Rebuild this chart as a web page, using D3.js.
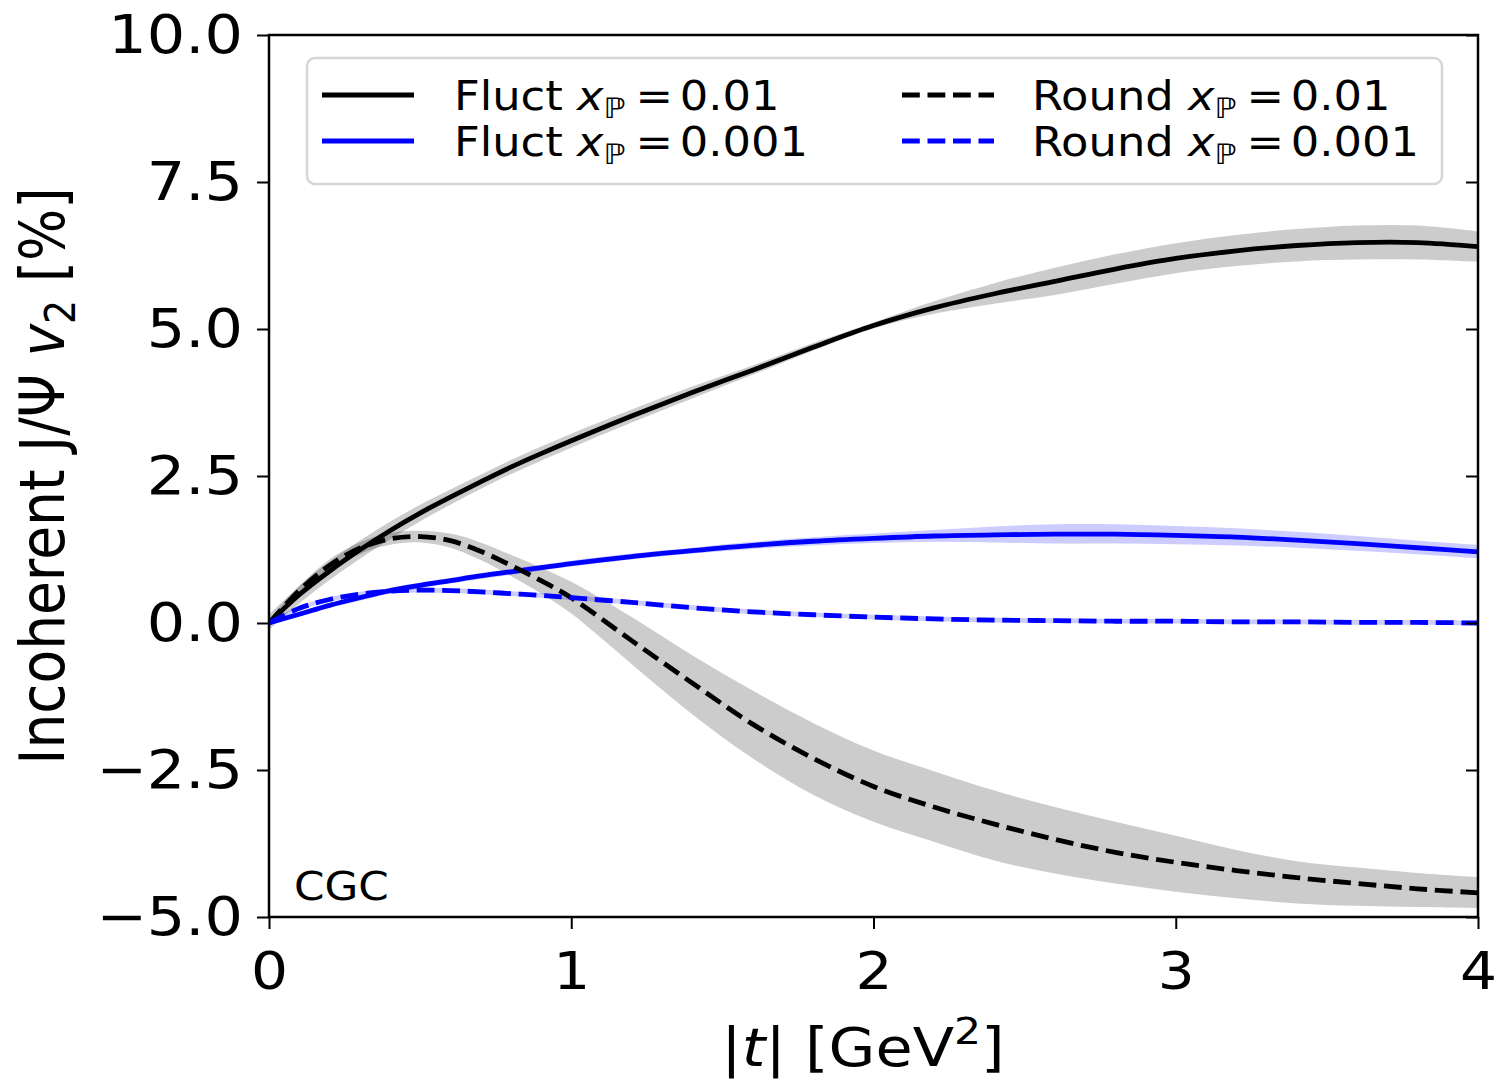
<!DOCTYPE html>
<html>
<head>
<meta charset="utf-8">
<script src="https://cdn.jsdelivr.net/npm/d3@7"></script>
<style>
  html, body { margin: 0; padding: 0; background: #fff; }
  svg { display: block; font-family: "DejaVu Sans", sans-serif; }
</style>
</head>
<body>
<svg id="chart" width="1496" height="1081"></svg>
<script>
// |t| grid (GeV^2) shared by all curves
const tGrid = [0,0.1,0.2,0.3,0.4,0.5,0.6,0.7,0.8,0.9,1.0,1.2,1.4,1.6,1.8,2.0,2.2,2.4,2.6,2.8,3.0,3.2,3.4,3.6,3.8,4.0];

// Fluctuating proton, x_P = 0.01 (mean and uncertainty band)
const fluct01    = [0,0.48,0.88,1.24,1.57,1.87,2.14,2.40,2.65,2.88,3.10,3.52,3.92,4.30,4.69,5.06,5.36,5.60,5.81,6.02,6.20,6.33,6.42,6.47,6.47,6.40];
const fluct01Hi  = [0.14,0.63,1.04,1.40,1.72,2.01,2.27,2.52,2.77,3.00,3.22,3.63,4.02,4.38,4.76,5.11,5.47,5.78,6.04,6.27,6.46,6.60,6.70,6.76,6.76,6.66];
const fluct01Lo  = [-0.12,0.33,0.73,1.09,1.42,1.73,2.01,2.28,2.53,2.76,2.98,3.41,3.82,4.22,4.63,5.01,5.26,5.43,5.58,5.77,5.95,6.07,6.15,6.18,6.18,6.14];

// Fluctuating proton, x_P = 0.001
const fluct001   = [0,0.15,0.30,0.43,0.55,0.64,0.72,0.80,0.87,0.94,1.01,1.13,1.23,1.32,1.39,1.44,1.48,1.50,1.51,1.51,1.49,1.46,1.41,1.35,1.28,1.21];
const fluct001Hi = [0.03,0.19,0.34,0.48,0.60,0.69,0.77,0.85,0.92,0.99,1.06,1.18,1.28,1.38,1.46,1.52,1.58,1.64,1.68,1.68,1.65,1.61,1.55,1.48,1.40,1.33];
const fluct001Lo = [-0.03,0.11,0.26,0.38,0.50,0.59,0.67,0.75,0.82,0.89,0.96,1.08,1.18,1.26,1.32,1.36,1.38,1.37,1.35,1.35,1.34,1.32,1.28,1.23,1.17,1.10];

// Round proton, x_P = 0.01
const round01    = [0,0.55,0.98,1.27,1.43,1.47,1.40,1.22,0.98,0.72,0.43,-0.30,-1.02,-1.72,-2.30,-2.78,-3.13,-3.42,-3.68,-3.90,-4.07,-4.21,-4.33,-4.43,-4.52,-4.59];
const round01Hi  = [0.06,0.63,1.08,1.37,1.53,1.57,1.52,1.37,1.16,0.94,0.70,0.10,-0.55,-1.15,-1.70,-2.17,-2.52,-2.85,-3.13,-3.38,-3.62,-3.86,-4.05,-4.16,-4.25,-4.32];
const round01Lo  = [-0.06,0.47,0.88,1.17,1.33,1.37,1.28,1.07,0.80,0.50,0.16,-0.70,-1.55,-2.30,-2.92,-3.38,-3.72,-4.04,-4.26,-4.43,-4.57,-4.68,-4.77,-4.81,-4.83,-4.85];

// Round proton, x_P = 0.001
const round001   = [0,0.25,0.40,0.49,0.54,0.56,0.55,0.53,0.50,0.47,0.43,0.35,0.26,0.19,0.14,0.10,0.07,0.05,0.04,0.03,0.03,0.02,0.02,0.01,0.01,0.00];
const round001Hi = [0.04,0.29,0.44,0.53,0.58,0.60,0.59,0.57,0.54,0.51,0.47,0.39,0.30,0.23,0.18,0.14,0.11,0.09,0.08,0.07,0.07,0.06,0.06,0.05,0.05,0.04];
const round001Lo = [-0.04,0.21,0.36,0.45,0.50,0.52,0.51,0.49,0.46,0.43,0.39,0.31,0.22,0.15,0.10,0.06,0.03,0.01,0.00,-0.01,-0.01,-0.02,-0.02,-0.03,-0.03,-0.04];

// Axis ticks
const xTicks = [0, 1, 2, 3, 4];
const yTicks = [-5.0, -2.5, 0.0, 2.5, 5.0, 7.5, 10.0];

// Legend entries
const legendLabels = ["Fluct", "Fluct", "Round", "Round"];
const legendX = ["0.01", "0.001", "0.01", "0.001"];

const svg = d3.select("#chart");
const W = 1496, H = 1081;
const m = { left: 269, top: 35, right: 18, bottom: 164 };
const pw = W - m.left - m.right, ph = H - m.top - m.bottom;
const SX = 1.12;   // horizontal glyph stretch used for all text

const x = d3.scaleLinear().domain([0, 4]).range([m.left, m.left + pw]);
const y = d3.scaleLinear().domain([-5, 10]).range([m.top + ph, m.top]);

svg.append("defs").append("clipPath").attr("id", "plotclip")
  .append("rect").attr("x", m.left).attr("y", m.top).attr("width", pw).attr("height", ph);
const plot = svg.append("g").attr("clip-path", "url(#plotclip)");

const curve = d3.curveCatmullRom.alpha(0.5);
const area = (lo, hi) => d3.area()
  .x((d, i) => x(tGrid[i])).y0((d, i) => y(lo[i])).y1((d, i) => y(hi[i])).curve(curve)(tGrid);
const line = vals => d3.line()
  .x((d, i) => x(tGrid[i])).y((d, i) => y(vals[i])).curve(curve)(tGrid);

const LW = 4.8, DASH = "17.8,7.7";
const series = [
  { mean: fluct01,  lo: fluct01Lo,  hi: fluct01Hi,  color: "#000000", dash: null },
  { mean: fluct001, lo: fluct001Lo, hi: fluct001Hi, color: "#0000ff", dash: null },
  { mean: round01,  lo: round01Lo,  hi: round01Hi,  color: "#000000", dash: DASH },
  { mean: round001, lo: round001Lo, hi: round001Hi, color: "#0000ff", dash: DASH }
];

// Uncertainty bands
series.forEach(s => {
  plot.append("path").attr("d", area(s.lo, s.hi))
    .attr("fill", s.color).attr("fill-opacity", 0.2).attr("stroke", "none");
});
// Central curves
series.forEach(s => {
  plot.append("path").attr("d", line(s.mean))
    .attr("fill", "none").attr("stroke", s.color).attr("stroke-width", LW)
    .attr("stroke-dasharray", s.dash);
});

// Spines
svg.append("rect").attr("x", m.left).attr("y", m.top).attr("width", pw).attr("height", ph)
  .attr("fill", "none").attr("stroke", "#000").attr("stroke-width", 2.5);

// Y axis (left, outward ticks) and inward ticks on the right
const fmtY = d => (d < 0 ? "\u2212" : "") + Math.abs(d).toFixed(1);
const gy = svg.append("g").attr("transform", `translate(${m.left},0)`)
  .call(d3.axisLeft(y).tickValues(yTicks).tickSize(12).tickPadding(14).tickFormat(fmtY));
gy.select(".domain").remove();
gy.selectAll(".tick line").attr("stroke-width", 2);
gy.selectAll(".tick text").attr("font-size", 54).attr("font-family", "DejaVu Sans").attr("fill", "#000")
  .each(function () {
    const t = d3.select(this);
    t.attr("x", +t.attr("x") / SX).attr("transform", `scale(${SX},1)`);
  });

const gyr = svg.append("g").attr("transform", `translate(${m.left + pw},0)`)
  .call(d3.axisLeft(y).tickValues(yTicks).tickSize(12).tickFormat(""));
gyr.select(".domain").remove();
gyr.selectAll(".tick line").attr("stroke-width", 2);

// X axis (bottom, outward ticks)
const gx = svg.append("g").attr("transform", `translate(0,${m.top + ph})`)
  .call(d3.axisBottom(x).tickValues(xTicks).tickSize(12).tickPadding(23).tickFormat(d3.format("d")));
gx.select(".domain").remove();
gx.selectAll(".tick line").attr("stroke-width", 2);
gx.selectAll(".tick text").attr("font-size", 52).attr("font-family", "DejaVu Sans").attr("fill", "#000")
  .attr("transform", `scale(${SX},1)`);

// text placed at (px, py) with the common horizontal stretch
function stretchedText(px, py, size, anchor) {
  return svg.append("text")
    .attr("transform", `translate(${px},${py}) scale(${SX},1)`)
    .attr("text-anchor", anchor || "start").attr("font-size", size).attr("fill", "#000");
}

// Axis titles
const xl = stretchedText(863, 1066, 54, "middle");
xl.append("tspan").text("|");
xl.append("tspan").attr("font-style", "italic").text("t");
xl.append("tspan").text("| [GeV");
xl.append("tspan").attr("font-size", 38).attr("dy", -22).text("2");
xl.append("tspan").attr("dy", 22).text("]");

const yl = svg.append("text")
  .attr("transform", `translate(64,${m.top + ph / 2}) scale(${SX},1) rotate(-90)`)
  .attr("text-anchor", "middle").attr("font-size", 55).attr("fill", "#000");
yl.append("tspan").text("Incoherent J/\u03A8 ");
yl.append("tspan").attr("font-style", "italic").text("v");
yl.append("tspan").attr("font-size", 38).attr("dy", 10).text("2");
yl.append("tspan").attr("dy", -10).text(" [%]");

// Model label
stretchedText(294, 900, 39).text("CGC");

// Legend
const legend = svg.append("g");
legend.append("rect").attr("x", 307).attr("y", 58).attr("width", 1135).attr("height", 126)
  .attr("rx", 8).attr("fill", "#fff").attr("fill-opacity", 0.8)
  .attr("stroke", "#d6d6d6").attr("stroke-width", 2.5);

const handleX = [322, 322, 902, 902];
const rowY = [95, 141, 95, 141];
const textX = [454, 454, 1032, 1032];
series.forEach((s, i) => {
  legend.append("line").attr("x1", handleX[i]).attr("x2", handleX[i] + 92)
    .attr("y1", rowY[i]).attr("y2", rowY[i])
    .attr("stroke", s.color).attr("stroke-width", LW).attr("stroke-dasharray", s.dash);
  const t = stretchedText(textX[i], rowY[i] + 15, 40);
  t.append("tspan").text(legendLabels[i] + " ");
  t.append("tspan").attr("font-style", "italic").text("x");
  t.append("tspan").attr("font-size", 28).attr("dy", 8).text("\u2119");
  t.append("tspan").attr("dy", -8).attr("dx", 9).text("=");
  t.append("tspan").attr("dx", 6).text(legendX[i]);
});
</script>
</body>
</html>
